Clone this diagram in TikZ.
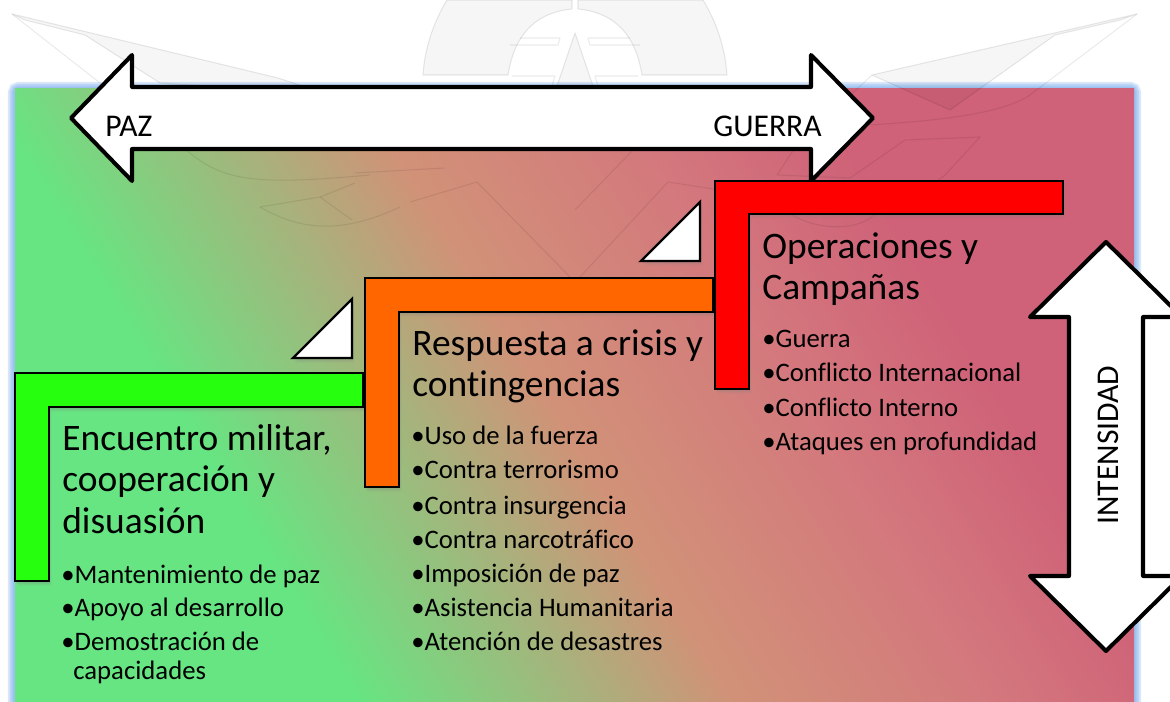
\documentclass[tikz,border=0pt]{standalone}
\usepackage{fontspec}
\setmainfont{Carlito}[Ligatures=NoCommon]
\usetikzlibrary{shadows}
\pgfdeclarehorizontalshading{panelshade}{100bp}{rgb(0bp)=(0.40,0.90,0.51); rgb(37bp)=(0.40,0.90,0.51); rgb(48.5bp)=(0.82,0.57,0.47); rgb(56.4bp)=(0.83,0.47,0.49); rgb(62.5bp)=(0.81,0.38,0.47); rgb(100bp)=(0.81,0.38,0.47)}
\definecolor{glowblue}{RGB}{120,170,235}
\definecolor{stepgreen}{RGB}{38,255,14}
\definecolor{steporange}{RGB}{255,102,0}
\definecolor{stepred}{RGB}{255,0,0}
\tikzset{
	stepshape/.style={draw=black,line width=1.4pt,line join=miter,
		drop shadow={shadow xshift=1.4pt,shadow yshift=-2.6pt,opacity=.12},
		drop shadow={shadow xshift=.8pt,shadow yshift=-1.5pt,opacity=.22}},
	corner/.style={stepshape,fill=white},
	bigarrow/.style={draw=black,fill=white,line width=2.3pt,line join=round},
	heading/.style={anchor=base west,inner sep=0pt,font=\fontsize{21.3}{24}\selectfont},
	itemtext/.style={anchor=base west,inner sep=0pt,font=\fontsize{15.2}{17}\selectfont},
	arrowlabel/.style={anchor=base west,inner sep=0pt,font=\fontsize{18}{20}\selectfont},
	markline/.style={draw=black,draw opacity=.09,fill=black,fill opacity=.035,line width=.6pt,line join=round},
	markthin/.style={draw=black,draw opacity=.08,line width=.6pt,line join=round}
}
\begin{document}
\begin{tikzpicture}[x=.02cm,y=-.02cm]
	\useasboundingbox (0,0) rectangle (1170,702);
	\clip (0,0) rectangle (1170,702);
	% panel
	\foreach \w in {8,6,4,2.5}{
		\draw[glowblue,opacity=.28,line width=\w pt,rounded corners=2pt] (15,89) rectangle (1134,720);
	}
	\begin{scope}
		\clip (15,89) rectangle (1134,702);
		\shade[transform canvas={rotate=31.6},shading=panelshade] (-400,-400) rectangle (1000,1300);
	\end{scope}
	% watermark
	\draw[markline] (12,14) -- (278,78) -- (330,95) -- (160,83) -- (85,35) -- (25,20) -- cycle;
	\draw[markthin] (12,14) -- (100,83) -- (190,153) .. controls (225,182) and (260,185) .. (370,175);
	\draw[markthin] (260,207) -- (320,197) -- (355,183);
	\draw[markthin] (260,207) .. controls (300,230) and (340,235) .. (400,207);
	\draw[markthin] (320,197) -- (352,220);
	\draw[markthin] (410,202) -- (477,182) -- (570,277);
	\draw[markthin] (355,173) -- (445,168);
	\draw[markthin] (575,210) -- (633,150);
	\draw[markthin] (580,277) -- (668,182) -- (720,190);
	\draw[markline] (423,75) .. controls (425,45) and (435,20) .. (447,0) -- (572,0) -- (572,9)
		.. controls (540,12) and (515,30) .. (508,75) -- cycle;
	\draw[markline] (727,75) .. controls (725,45) and (715,20) .. (703,0) -- (578,0) -- (578,9)
		.. controls (610,12) and (635,30) .. (642,75) -- cycle;
	\draw[markthin] (520,38) -- (560,38) -- (558,45) -- (510,45);
	\draw[markthin] (630,38) -- (588,38) -- (590,45) -- (640,45);
	\draw[markline] (575,33) -- (557,86) -- (593,86) -- cycle;
	\draw[markthin] (512,76) -- (555,76) -- (552,86);
	\draw[markthin] (638,76) -- (595,76) -- (598,86);
	\draw[markline] (1137,14) -- (872,75) -- (950,110) -- (1055,35) -- (1120,20) -- cycle;
	\draw[markthin] (1137,14) -- (1030,95) .. controls (1005,112) and (950,120) .. (870,125);
	\draw[markthin] (872,75) -- (840,105);
	\draw[markthin] (980,137) -- (905,140) -- (850,178) -- (777,175) -- (800,140);
	\draw[markthin] (980,137) -- (945,175) .. controls (920,195) and (880,205) .. (860,205);
	\draw[markthin] (790,214) .. controls (820,232) and (860,230) .. (875,214);
	% war and peace arrow
	\draw[bigarrow] (71,118) -- (132,55) -- (132,87) -- (811,87) -- (811,55) -- (873,118)
		-- (811,181) -- (811,149) -- (132,149) -- (132,181) -- cycle;
	\node[arrowlabel] (paz) at (105,137) {PAZ};
	\node[arrowlabel] (guerra) at (713,137) {GUERRA};
	% steps
	\draw[stepshape,fill=stepgreen] (15,373) -- (363,373) -- (363,407) -- (49,407) -- (49,581) -- (15,581) -- cycle;
	\draw[stepshape,fill=steporange] (365,278) -- (713,278) -- (713,312) -- (399,312) -- (399,487) -- (365,487) -- cycle;
	\draw[stepshape,fill=stepred] (715,181) -- (1063,181) -- (1063,214) -- (749,214) -- (749,389) -- (715,389) -- cycle;
	\draw[corner] (293,358) -- (352,358) -- (352,299) -- cycle;
	\draw[corner] (641,261) -- (700,261) -- (700,202) -- cycle;
	% intensity arrow
	\draw[bigarrow] (1106,242) -- (1182,317) -- (1143,317) -- (1143,576) -- (1182,576) -- (1106,651)
		-- (1030,576) -- (1069,576) -- (1069,317) -- (1030,317) -- cycle;
	\node[arrowlabel,rotate=90] (intensidad) at (1118,525) {INTENSIDAD};
	% titles
	\node[heading] (titlea) at (62,451) {Encuentro militar,};
	\node[heading] (titleb) at (62,492) {cooperación y};
	\node[heading] (titlec) at (62,533) {disuasión};
	\node[heading] (titled) at (412,356) {Respuesta a crisis y};
	\node[heading] (titlee) at (412,397) {contingencias};
	\node[heading] (titlef) at (762,259) {Operaciones y};
	\node[heading] (titleg) at (762,300) {Campañas};
	% lists
	\foreach \y/\t [count=\n] in {583/Mantenimiento de paz,616/Apoyo al desarrollo,650/Demostración de}{
		\node[itemtext] (peace\n) at (61,\y) {•\t};
	}
	\node[itemtext] (peace4) at (73,679) {capacidades};
	\foreach \y/\t [count=\n] in {445/Uso de la fuerza,479/Contra terrorismo,514/Contra insurgencia,548/Contra narcotráfico,582/Imposición de paz,616/Asistencia Humanitaria,650/Atención de desastres}{
		\node[itemtext] (crisis\n) at (411,\y) {•\t};
	}
	\foreach \y/\t [count=\n] in {348/Guerra,382/Conflicto Internacional,417/Conflicto Interno,451/Ataques en profundidad}{
		\node[itemtext] (war\n) at (762,\y) {•\t};
	}
\end{tikzpicture}
\end{document}
